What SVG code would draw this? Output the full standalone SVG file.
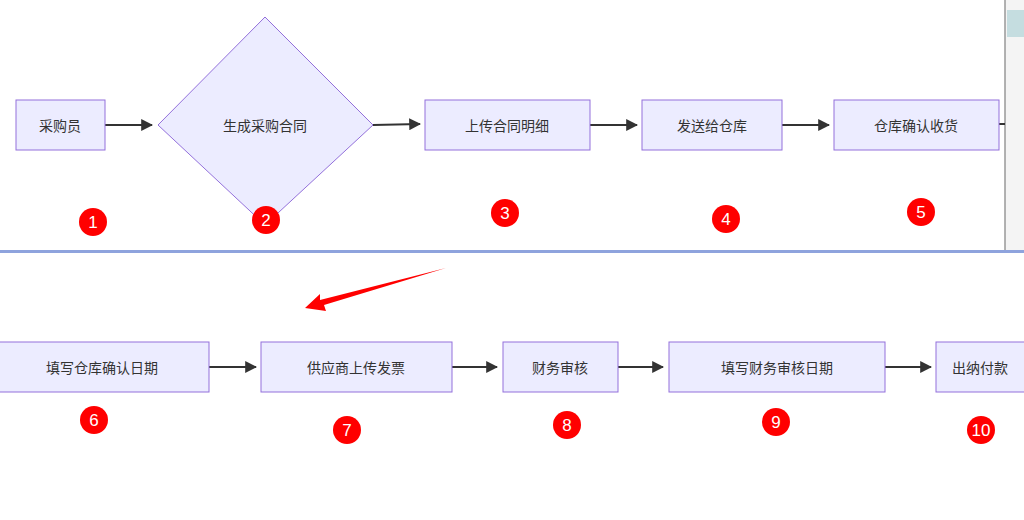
<svg xmlns="http://www.w3.org/2000/svg" width="1024" height="520" viewBox="0 0 1024 520">
<style>
.n{fill:#ececff;stroke:#9370db;stroke-width:1}
.t{font-family:"Noto Sans CJK SC",sans-serif;font-size:14px;fill:#333;text-anchor:middle;dominant-baseline:central}
.c{fill:#ff0000}
.ct{font-family:"Liberation Sans",Arial,sans-serif;font-size:17px;fill:#fff;text-anchor:middle;dominant-baseline:central}
.e{stroke:#333;stroke-width:2;fill:none;marker-end:url(#a)}
</style>
<defs><marker id="a" viewBox="0 0 10 10" refX="9" refY="5" markerWidth="6" markerHeight="6" orient="auto"><path d="M0,0L10,5L0,10z" fill="#333"/></marker></defs>
<rect width="1024" height="520" fill="#fff"/>
<rect x="1005" y="0" width="19" height="252" fill="#f4f4f4"/>
<rect x="1007" y="10" width="17" height="27" fill="#c5dde0"/>
<line x1="1005" y1="0" x2="1005" y2="252" stroke="#999" stroke-width="1.5"/>
<rect x="0" y="250" width="1024" height="3" fill="#8ea3dd"/>
<g id="connectors">
<line class="e" x1="105" y1="125" x2="152" y2="125"/>
<line class="e" x1="373" y1="125" x2="420" y2="124"/>
<line class="e" x1="590" y1="125" x2="637" y2="125"/>
<line class="e" x1="782" y1="125" x2="829" y2="125"/>
<line x1="999" y1="124" x2="1005" y2="124" stroke="#333" stroke-width="2"/>
<line class="e" x1="209" y1="367" x2="256" y2="367"/>
<line class="e" x1="452" y1="367" x2="497" y2="367"/>
<line class="e" x1="618" y1="367" x2="663" y2="367"/>
<line class="e" x1="885" y1="367" x2="931" y2="367"/>
</g>
<g id="n1"><rect class="n" x="16" y="100" width="89" height="50"/><text class="t" x="60" y="125">采购员</text></g>
<g id="n2"><polygon class="n" points="265,17 373,125 265,225 158,125"/><text class="t" x="265" y="125">生成采购合同</text></g>
<g id="n3"><rect class="n" x="425" y="100" width="165" height="50"/><text class="t" x="507" y="125">上传合同明细</text></g>
<g id="n4"><rect class="n" x="642" y="100" width="140" height="50"/><text class="t" x="712" y="125">发送给仓库</text></g>
<g id="n5"><rect class="n" x="834" y="100" width="165" height="50"/><text class="t" x="916" y="125">仓库确认收货</text></g>
<g id="n6"><rect class="n" x="-5" y="342" width="214" height="50"/><text class="t" x="102" y="367">填写仓库确认日期</text></g>
<g id="n7"><rect class="n" x="261" y="342" width="191" height="50"/><text class="t" x="356" y="367">供应商上传发票</text></g>
<g id="n8"><rect class="n" x="503" y="342" width="115" height="50"/><text class="t" x="560" y="367">财务审核</text></g>
<g id="n9"><rect class="n" x="669" y="342" width="216" height="50"/><text class="t" x="777" y="367">填写财务审核日期</text></g>
<g id="n10"><rect class="n" x="936" y="342" width="100" height="50"/><text class="t" x="980" y="367">出纳付款</text></g>
<g id="badges">
<circle class="c" cx="93" cy="222" r="14"/><text class="ct" x="93" y="222">1</text>
<circle class="c" cx="266" cy="220" r="14"/><text class="ct" x="266" y="220">2</text>
<circle class="c" cx="505" cy="213" r="14"/><text class="ct" x="505" y="213">3</text>
<circle class="c" cx="726" cy="219" r="14"/><text class="ct" x="726" y="219">4</text>
<circle class="c" cx="921" cy="212" r="14"/><text class="ct" x="921" y="212">5</text>
<circle class="c" cx="94" cy="420" r="14"/><text class="ct" x="94" y="420">6</text>
<circle class="c" cx="347" cy="430" r="14"/><text class="ct" x="347" y="430">7</text>
<circle class="c" cx="567" cy="425" r="14"/><text class="ct" x="567" y="425">8</text>
<circle class="c" cx="776" cy="422" r="14"/><text class="ct" x="776" y="422">9</text>
<circle class="c" cx="981" cy="430" r="14"/><text class="ct" x="981" y="430">10</text>
</g>
<path d="M446,268 L324,305 L326,311 L305,308 L320,294 L320,300 Z" fill="#ff0000"/>
</svg>
